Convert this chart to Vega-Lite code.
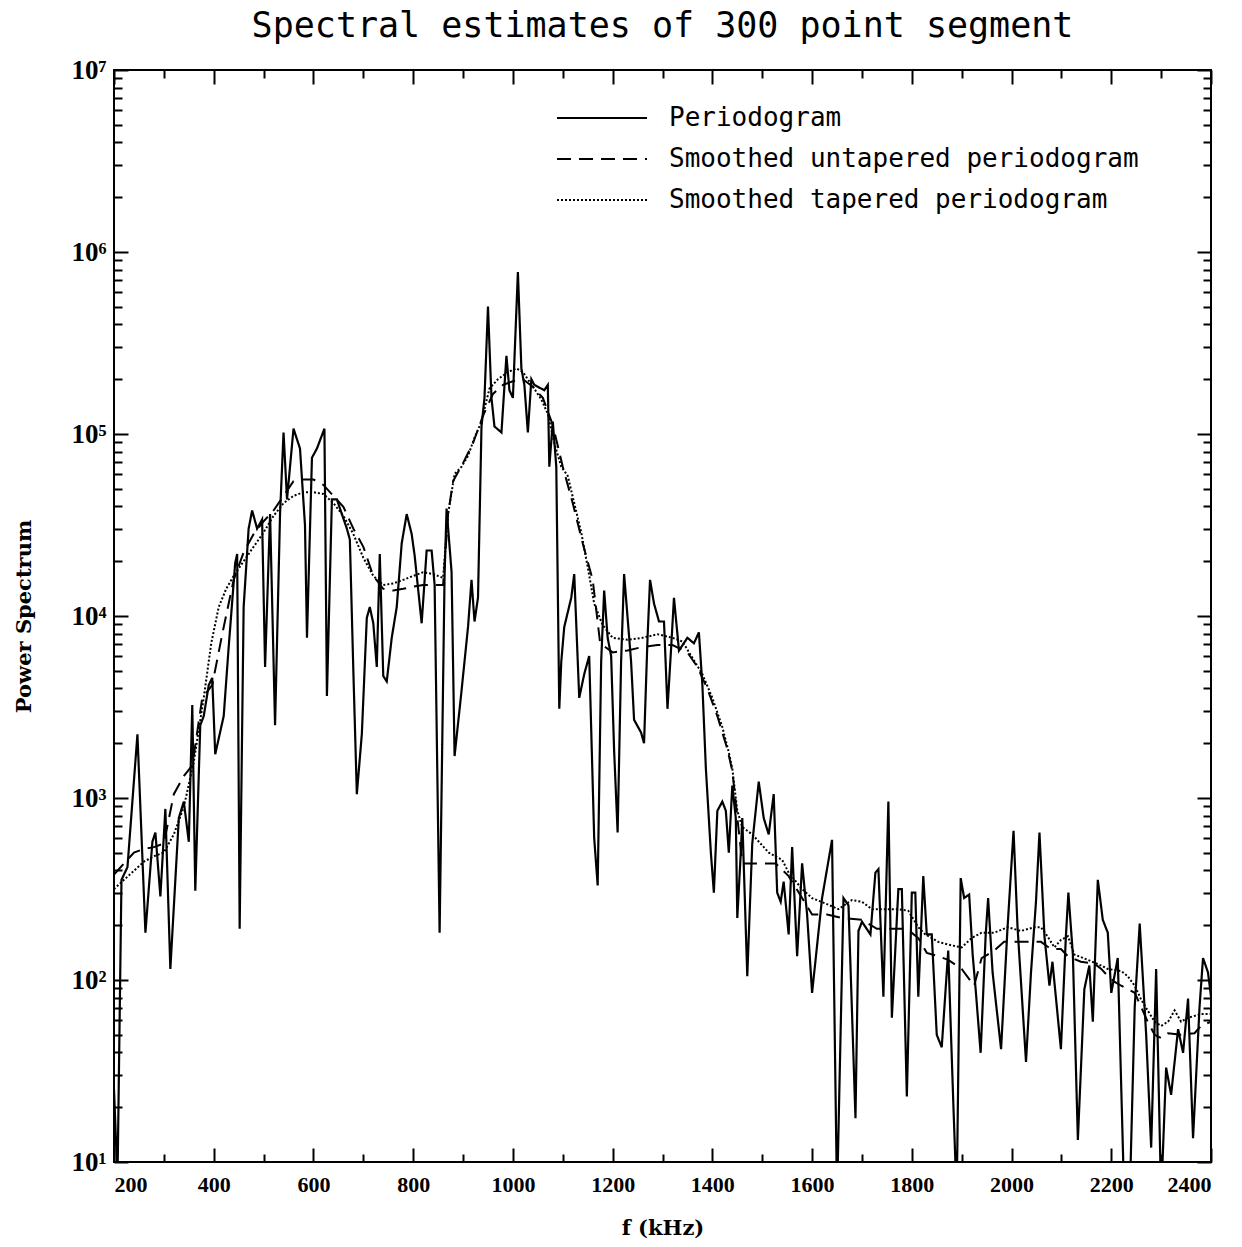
{
"$schema":"https://vega.github.io/schema/vega-lite/v6.json",
"width":1097,"height":1092,
"autosize":"none",
"padding":{"left":114,"top":70,"right":31,"bottom":85},
"background":"white",
"title":{"text":"Spectral estimates of 300 point segment","font":"DejaVu Sans Mono","fontSize":35,"fontWeight":"normal","color":"black","anchor":"middle","offset":12},
"config":{"view":{"stroke":"black","strokeWidth":2},"axis":{"grid":false,"domain":false}},
"datasets":{
"periodogram":[{"f":200,"power":25.1},{"f":207,"power":7.9},{"f":215,"power":355},{"f":227,"power":417},{"f":247,"power":2240},{"f":263,"power":182},{"f":277,"power":575},{"f":283,"power":646},{"f":293,"power":288},{"f":303,"power":871},{"f":313,"power":115},{"f":330,"power":776},{"f":340,"power":955},{"f":350,"power":575},{"f":357,"power":3240},{"f":363,"power":309},{"f":373,"power":2510},{"f":380,"power":2820},{"f":390,"power":4170},{"f":397,"power":4570},{"f":403,"power":1740},{"f":420,"power":2820},{"f":430,"power":6760},{"f":443,"power":19500},{"f":447,"power":21900},{"f":452,"power":191},{"f":460,"power":11200},{"f":470,"power":30200},{"f":477,"power":38000},{"f":487,"power":30200},{"f":497,"power":33900},{"f":503,"power":5250},{"f":513,"power":36300},{"f":523,"power":2510},{"f":533,"power":36300},{"f":540,"power":102000},{"f":547,"power":43700},{"f":560,"power":107000},{"f":573,"power":83200},{"f":583,"power":31600},{"f":587,"power":7590},{"f":597,"power":74100},{"f":607,"power":83200},{"f":622,"power":107000},{"f":627,"power":3630},{"f":637,"power":43700},{"f":647,"power":43700},{"f":657,"power":36300},{"f":667,"power":30200},{"f":673,"power":26300},{"f":680,"power":5010},{"f":687,"power":1050},{"f":697,"power":2240},{"f":707,"power":9770},{"f":713,"power":11200},{"f":720,"power":9120},{"f":727,"power":5250},{"f":733,"power":21900},{"f":740,"power":4680},{"f":747,"power":4370},{"f":757,"power":7590},{"f":767,"power":11200},{"f":777,"power":25100},{"f":787,"power":36300},{"f":797,"power":28200},{"f":803,"power":21400},{"f":817,"power":9120},{"f":827,"power":22900},{"f":837,"power":22900},{"f":843,"power":14800},{"f":853,"power":182},{"f":863,"power":17000},{"f":867,"power":38900},{"f":877,"power":17400},{"f":883,"power":1700},{"f":897,"power":3890},{"f":910,"power":8710},{"f":917,"power":15800},{"f":923,"power":9330},{"f":930,"power":12600},{"f":937,"power":110000},{"f":943,"power":158000},{"f":950,"power":501000},{"f":957,"power":158000},{"f":963,"power":110000},{"f":977,"power":102000},{"f":987,"power":269000},{"f":993,"power":174000},{"f":1000,"power":158000},{"f":1010,"power":776000},{"f":1017,"power":229000},{"f":1023,"power":186000},{"f":1030,"power":102000},{"f":1037,"power":200000},{"f":1043,"power":186000},{"f":1063,"power":174000},{"f":1070,"power":186000},{"f":1073,"power":66100},{"f":1080,"power":117000},{"f":1087,"power":66100},{"f":1093,"power":3090},{"f":1097,"power":5620},{"f":1103,"power":8710},{"f":1117,"power":12600},{"f":1123,"power":17000},{"f":1133,"power":3550},{"f":1143,"power":4790},{"f":1153,"power":6030},{"f":1163,"power":603},{"f":1170,"power":331},{"f":1177,"power":5620},{"f":1183,"power":13800},{"f":1190,"power":7590},{"f":1197,"power":6030},{"f":1203,"power":1820},{"f":1210,"power":646},{"f":1217,"power":5620},{"f":1223,"power":17000},{"f":1237,"power":5620},{"f":1243,"power":2690},{"f":1257,"power":2290},{"f":1263,"power":2000},{"f":1270,"power":7590},{"f":1275,"power":15800},{"f":1283,"power":11700},{"f":1293,"power":9330},{"f":1303,"power":9330},{"f":1310,"power":3090},{"f":1317,"power":6460},{"f":1323,"power":12600},{"f":1333,"power":6460},{"f":1350,"power":7590},{"f":1363,"power":7080},{"f":1373,"power":8130},{"f":1380,"power":4170},{"f":1387,"power":1450},{"f":1397,"power":501},{"f":1403,"power":302},{"f":1410,"power":851},{"f":1420,"power":955},{"f":1427,"power":851},{"f":1433,"power":501},{"f":1440,"power":1170},{"f":1447,"power":776},{"f":1450,"power":219},{"f":1457,"power":501},{"f":1460,"power":776},{"f":1470,"power":105},{"f":1480,"power":562},{"f":1493,"power":1230},{"f":1503,"power":776},{"f":1513,"power":631},{"f":1523,"power":1050},{"f":1530,"power":302},{"f":1537,"power":269},{"f":1543,"power":347},{"f":1553,"power":178},{"f":1560,"power":537},{"f":1570,"power":135},{"f":1580,"power":437},{"f":1590,"power":229},{"f":1600,"power":85},{"f":1620,"power":282},{"f":1640,"power":589},{"f":1650,"power":6.3},{"f":1663,"power":282},{"f":1673,"power":257},{"f":1687,"power":17.4},{"f":1693,"power":186},{"f":1700,"power":209},{"f":1717,"power":178},{"f":1727,"power":389},{"f":1733,"power":407},{"f":1743,"power":81},{"f":1753,"power":955},{"f":1760,"power":62},{"f":1773,"power":316},{"f":1780,"power":316},{"f":1790,"power":22.9},{"f":1800,"power":302},{"f":1807,"power":302},{"f":1813,"power":81},{"f":1823,"power":372},{"f":1830,"power":178},{"f":1840,"power":178},{"f":1850,"power":50},{"f":1860,"power":42.7},{"f":1873,"power":145},{"f":1883,"power":21.9},{"f":1890,"power":6.3},{"f":1898,"power":363},{"f":1905,"power":282},{"f":1915,"power":295},{"f":1922,"power":138},{"f":1928,"power":89},{"f":1938,"power":39.8},{"f":1948,"power":174},{"f":1953,"power":282},{"f":1962,"power":110},{"f":1979,"power":41.7},{"f":1992,"power":195},{"f":2004,"power":661},{"f":2012,"power":195},{"f":2029,"power":35.5},{"f":2039,"power":110},{"f":2049,"power":269},{"f":2056,"power":646},{"f":2066,"power":174},{"f":2076,"power":93},{"f":2082,"power":126},{"f":2099,"power":41.7},{"f":2109,"power":174},{"f":2114,"power":302},{"f":2123,"power":138},{"f":2133,"power":13.2},{"f":2146,"power":89},{"f":2156,"power":120},{"f":2163,"power":59},{"f":2173,"power":355},{"f":2183,"power":214},{"f":2193,"power":182},{"f":2200,"power":85},{"f":2213,"power":132},{"f":2226,"power":6.3},{"f":2237,"power":6.3},{"f":2247,"power":71},{"f":2257,"power":204},{"f":2270,"power":50},{"f":2280,"power":12},{"f":2290,"power":115},{"f":2300,"power":6.3},{"f":2310,"power":33},{"f":2320,"power":23.4},{"f":2334,"power":53.7},{"f":2344,"power":39.8},{"f":2354,"power":79},{"f":2364,"power":13.5},{"f":2377,"power":71},{"f":2384,"power":132},{"f":2394,"power":110},{"f":2400,"power":81}],
"untapered":[{"f":200,"power":380},{"f":220,"power":437},{"f":240,"power":501},{"f":260,"power":525},{"f":280,"power":537},{"f":300,"power":562},{"f":320,"power":1050},{"f":340,"power":1320},{"f":357,"power":1510},{"f":377,"power":3550},{"f":397,"power":4170},{"f":417,"power":7940},{"f":440,"power":15800},{"f":460,"power":22400},{"f":480,"power":28200},{"f":500,"power":33100},{"f":520,"power":38000},{"f":540,"power":45700},{"f":560,"power":55000},{"f":580,"power":56200},{"f":600,"power":56200},{"f":620,"power":52500},{"f":640,"power":45700},{"f":660,"power":39800},{"f":680,"power":30200},{"f":700,"power":24000},{"f":720,"power":16600},{"f":740,"power":14100},{"f":760,"power":13800},{"f":780,"power":14100},{"f":800,"power":14500},{"f":820,"power":14800},{"f":840,"power":14800},{"f":860,"power":14800},{"f":870,"power":36300},{"f":880,"power":55000},{"f":900,"power":69200},{"f":920,"power":89100},{"f":940,"power":126000},{"f":960,"power":166000},{"f":980,"power":186000},{"f":1000,"power":195000},{"f":1020,"power":200000},{"f":1040,"power":182000},{"f":1060,"power":158000},{"f":1080,"power":112000},{"f":1100,"power":66100},{"f":1120,"power":41700},{"f":1140,"power":25100},{"f":1160,"power":15800},{"f":1175,"power":7080},{"f":1200,"power":6310},{"f":1230,"power":6460},{"f":1260,"power":6760},{"f":1290,"power":6920},{"f":1320,"power":6920},{"f":1350,"power":6310},{"f":1370,"power":5250},{"f":1390,"power":3980},{"f":1410,"power":2820},{"f":1430,"power":1860},{"f":1440,"power":1410},{"f":1460,"power":437},{"f":1500,"power":437},{"f":1527,"power":437},{"f":1553,"power":372},{"f":1580,"power":282},{"f":1600,"power":229},{"f":1630,"power":229},{"f":1660,"power":219},{"f":1700,"power":214},{"f":1730,"power":191},{"f":1760,"power":191},{"f":1790,"power":191},{"f":1813,"power":170},{"f":1830,"power":141},{"f":1853,"power":135},{"f":1873,"power":129},{"f":1900,"power":115},{"f":1925,"power":93},{"f":1940,"power":132},{"f":1952,"power":138},{"f":1965,"power":145},{"f":1985,"power":162},{"f":2005,"power":162},{"f":2039,"power":162},{"f":2059,"power":162},{"f":2079,"power":148},{"f":2099,"power":148},{"f":2113,"power":135},{"f":2139,"power":126},{"f":2166,"power":123},{"f":2180,"power":115},{"f":2193,"power":105},{"f":2206,"power":98},{"f":2220,"power":93},{"f":2233,"power":89},{"f":2247,"power":85},{"f":2260,"power":71},{"f":2273,"power":59},{"f":2287,"power":50},{"f":2300,"power":48},{"f":2314,"power":51},{"f":2340,"power":50},{"f":2367,"power":51},{"f":2380,"power":56},{"f":2400,"power":59}],
"tapered":[{"f":200,"power":316},{"f":220,"power":355},{"f":240,"power":398},{"f":260,"power":447},{"f":280,"power":479},{"f":300,"power":501},{"f":320,"power":631},{"f":340,"power":891},{"f":360,"power":1580},{"f":380,"power":3550},{"f":395,"power":7080},{"f":410,"power":11200},{"f":425,"power":14100},{"f":440,"power":16600},{"f":460,"power":20000},{"f":480,"power":24000},{"f":500,"power":28800},{"f":520,"power":35500},{"f":540,"power":41700},{"f":560,"power":45700},{"f":580,"power":47900},{"f":600,"power":47900},{"f":620,"power":46800},{"f":640,"power":41700},{"f":660,"power":35500},{"f":680,"power":28200},{"f":700,"power":20900},{"f":720,"power":16600},{"f":740,"power":14800},{"f":760,"power":15100},{"f":780,"power":15800},{"f":800,"power":16600},{"f":820,"power":17400},{"f":840,"power":17000},{"f":860,"power":16200},{"f":870,"power":36300},{"f":883,"power":60300},{"f":897,"power":66100},{"f":910,"power":75900},{"f":923,"power":95500},{"f":937,"power":117000},{"f":953,"power":178000},{"f":970,"power":200000},{"f":990,"power":219000},{"f":1007,"power":229000},{"f":1020,"power":219000},{"f":1040,"power":182000},{"f":1057,"power":155000},{"f":1070,"power":129000},{"f":1083,"power":89100},{"f":1097,"power":66100},{"f":1110,"power":58900},{"f":1123,"power":41700},{"f":1137,"power":28800},{"f":1150,"power":18600},{"f":1163,"power":11700},{"f":1180,"power":8910},{"f":1200,"power":7590},{"f":1230,"power":7410},{"f":1260,"power":7590},{"f":1290,"power":7940},{"f":1320,"power":7590},{"f":1340,"power":7240},{"f":1360,"power":5890},{"f":1380,"power":4790},{"f":1400,"power":3550},{"f":1420,"power":2450},{"f":1433,"power":1780},{"f":1440,"power":1450},{"f":1450,"power":851},{"f":1460,"power":692},{"f":1480,"power":631},{"f":1513,"power":501},{"f":1540,"power":457},{"f":1553,"power":389},{"f":1580,"power":316},{"f":1600,"power":282},{"f":1627,"power":263},{"f":1653,"power":245},{"f":1680,"power":275},{"f":1700,"power":269},{"f":1720,"power":245},{"f":1747,"power":245},{"f":1773,"power":245},{"f":1793,"power":240},{"f":1813,"power":195},{"f":1827,"power":178},{"f":1853,"power":162},{"f":1880,"power":155},{"f":1900,"power":151},{"f":1920,"power":170},{"f":1940,"power":182},{"f":1965,"power":182},{"f":1992,"power":195},{"f":2019,"power":186},{"f":2046,"power":195},{"f":2059,"power":195},{"f":2072,"power":174},{"f":2086,"power":151},{"f":2099,"power":166},{"f":2113,"power":174},{"f":2126,"power":138},{"f":2153,"power":129},{"f":2180,"power":120},{"f":2193,"power":115},{"f":2220,"power":112},{"f":2233,"power":105},{"f":2247,"power":93},{"f":2260,"power":78},{"f":2273,"power":68},{"f":2287,"power":59},{"f":2300,"power":56},{"f":2314,"power":59},{"f":2327,"power":68},{"f":2340,"power":59},{"f":2354,"power":62},{"f":2380,"power":65},{"f":2400,"power":65}]
},
"layer":[
{
"encoding":{
"x":{"field":"f","type":"quantitative","scale":{"domain":[200,2400],"nice":false,"zero":false},
"axis":{"orient":"bottom","values":[200,300,400,500,600,700,800,900,1000,1100,1200,1300,1400,1500,1600,1700,1800,1900,2000,2100,2200,2300,2400],"format":"d","labelExpr":"datum.value % 200 == 0 ? datum.label : ''","labelOverlap":false,"labelFlush":true,"tickSize":{"condition":{"test":"datum.value % 200 == 0","value":-14},"value":-8},"tickColor":"black","tickWidth":2,"labelFont":"Liberation Serif","labelFontWeight":"bold","labelFontSize":22,"labelColor":"black","labelPadding":26,"title":"f (kHz)","titleFont":"DejaVu Serif","titleFontSize":21,"titleFontWeight":"bold","titleColor":"black","titlePadding":16}},
"y":{"field":"power","type":"quantitative","scale":{"type":"log","domain":[10,10000000],"nice":false},
"axis":{"orient":"left","values":[10,20,30,40,50,60,70,80,90,100,200,300,400,500,600,700,800,900,1000,2000,3000,4000,5000,6000,7000,8000,9000,10000,20000,30000,40000,50000,60000,70000,80000,90000,100000,200000,300000,400000,500000,600000,700000,800000,900000,1000000,2000000,3000000,4000000,5000000,6000000,7000000,8000000,9000000,10000000],"labelExpr":"datum.value == 10 ? '10¹' : datum.value == 100 ? '10²' : datum.value == 1000 ? '10³' : datum.value == 10000 ? '10⁴' : datum.value == 100000 ? '10⁵' : datum.value == 1000000 ? '10⁶' : datum.value == 10000000 ? '10⁷' : ''","labelOverlap":false,"tickSize":{"condition":{"test":"indexof([10,100,1000,10000,100000,1000000,10000000], datum.value) >= 0","value":-14},"value":-8},"tickColor":"black","tickWidth":2,"labelFont":"Liberation Serif","labelFontWeight":"bold","labelFontSize":27,"labelColor":"black","labelPadding":22,"title":"Power Spectrum","titleFont":"DejaVu Serif","titleFontSize":21,"titleFontWeight":"bold","titleColor":"black","titlePadding":36}}
},
"layer":[
{"data":{"name":"periodogram"},"mark":{"type":"line","color":"black","strokeWidth":2.2,"clip":true},
"encoding":{"strokeDash":{"datum":"Periodogram","type":"nominal","scale":{"domain":["Periodogram","Smoothed untapered periodogram","Smoothed tapered periodogram"],"range":[[1,0],[14,8],[2,2]]},
"legend":{"orient":"none","legendX":472,"legendY":32,"title":null,"symbolType":"M-3,0H3","symbolSize":900,"symbolStrokeWidth":2,"symbolStrokeColor":"black","symbolFillColor":"transparent","labelFont":"DejaVu Sans Mono","labelFontSize":26,"labelColor":"black","labelOffset":51,"labelLimit":800,"rowPadding":12,"padding":0}}}},
{"data":{"name":"untapered"},"mark":{"type":"line","color":"black","strokeWidth":2,"clip":true},
"encoding":{"strokeDash":{"datum":"Smoothed untapered periodogram","type":"nominal"}}},
{"data":{"name":"tapered"},"mark":{"type":"line","color":"black","strokeWidth":2,"clip":true},
"encoding":{"strokeDash":{"datum":"Smoothed tapered periodogram","type":"nominal"}}}
]
},
{
"data":{"name":"tapered"},
"mark":{"type":"line","opacity":0,"clip":true},
"encoding":{
"x":{"field":"f","type":"quantitative","axis":{"orient":"top","values":[200,300,400,500,600,700,800,900,1000,1100,1200,1300,1400,1500,1600,1700,1800,1900,2000,2100,2200,2300,2400],"labels":false,"title":null,"tickSize":{"condition":{"test":"datum.value % 200 == 0","value":-14},"value":-8},"tickColor":"black","tickWidth":2}},
"y":{"field":"power","type":"quantitative","axis":{"orient":"right","values":[10,20,30,40,50,60,70,80,90,100,200,300,400,500,600,700,800,900,1000,2000,3000,4000,5000,6000,7000,8000,9000,10000,20000,30000,40000,50000,60000,70000,80000,90000,100000,200000,300000,400000,500000,600000,700000,800000,900000,1000000,2000000,3000000,4000000,5000000,6000000,7000000,8000000,9000000,10000000],"labels":false,"title":null,"tickSize":{"condition":{"test":"indexof([10,100,1000,10000,100000,1000000,10000000], datum.value) >= 0","value":-14},"value":-8},"tickColor":"black","tickWidth":2}}
}
}
],
"resolve":{"axis":{"x":"independent","y":"independent"}}
}
